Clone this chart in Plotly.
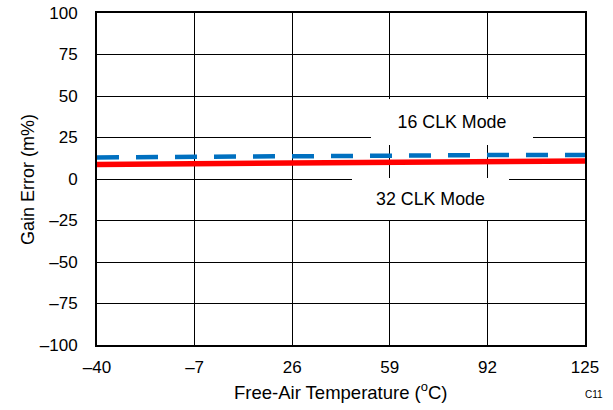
import plotly.graph_objects as go

temps = [-40, -7, 26, 59, 92, 125]
clk16 = [13.0, 13.5, 14.0, 14.2, 14.4, 14.5]
clk32 = [8.8, 9.3, 9.8, 10.2, 10.5, 10.8]

x_ticks = [-40, -7, 26, 59, 92, 125]
x_ticktext = ["\u201340", "\u20137", "26", "59", "92", "125"]
y_ticks = [-100, -75, -50, -25, 0, 25, 50, 75, 100]
y_ticktext = ["\u2013100", "\u201375", "\u201350", "\u201325", "0", "25", "50", "75", "100"]

FONT = "Liberation Sans, Arial, sans-serif"

fig = go.Figure()
fig.add_trace(go.Scatter(x=temps, y=clk16, mode="lines", name="16 CLK Mode",
                         line=dict(color="#0070C0", width=4.5, dash="22px,17px")))
fig.add_trace(go.Scatter(x=temps, y=clk32, mode="lines", name="32 CLK Mode",
                         line=dict(color="#FF0000", width=5.5)))

fig.update_layout(
    width=613, height=410,
    margin=dict(l=97, r=28, t=13, b=65, autoexpand=False),
    paper_bgcolor="white", plot_bgcolor="white",
    showlegend=False,
    font=dict(family=FONT, size=17, color="black"),
    xaxis=dict(range=[-40, 125], tickvals=x_ticks, ticktext=x_ticktext,
               showgrid=True, gridcolor="black", gridwidth=1,
               showline=True, linecolor="black", linewidth=2, mirror=True,
               zeroline=False, ticks="", ticklabelstandoff=6, automargin=False,
               ticklabeloverflow="allow", tickfont=dict(size=17)),
    yaxis=dict(range=[-100, 100], tickvals=y_ticks, ticktext=y_ticktext,
               showgrid=True, gridcolor="black", gridwidth=1,
               showline=True, linecolor="black", linewidth=2, mirror=True,
               zeroline=False, ticks="", ticklabelstandoff=14, automargin=False,
               ticklabeloverflow="allow", tickfont=dict(size=17)),
    annotations=[
        dict(x=80, y=34.3, xref="x", yref="y", text="16 CLK Mode", showarrow=False,
             bgcolor="white", width=162, height=46, borderpad=0, borderwidth=0,
             font=dict(size=17.8)),
        dict(x=72.6, y=-12.0, xref="x", yref="y", text="32 CLK Mode", showarrow=False,
             bgcolor="white", width=157, height=42, borderpad=0, borderwidth=0,
             font=dict(size=17.8)),
        dict(x=-0.1414, y=0.5, xref="paper", yref="paper", text="Gain Error (m%)",
             showarrow=False, textangle=-90, xanchor="center", yanchor="middle",
             font=dict(size=18)),
        dict(x=0.5, y=-0.1386, xref="paper", yref="paper",
             text="Free-Air Temperature (<sup>o</sup>C)",
             showarrow=False, xanchor="center", yanchor="middle",
             font=dict(size=18.5)),
        dict(x=1.018, y=-0.1506, xref="paper", yref="paper", text="C11",
             showarrow=False, xanchor="center", yanchor="middle",
             font=dict(size=10)),
    ],
)

fig.write_html("out.html",
               config={"displayModeBar": False},
               post_script="document.body.style.margin='0px';document.body.style.overflow='hidden';")
